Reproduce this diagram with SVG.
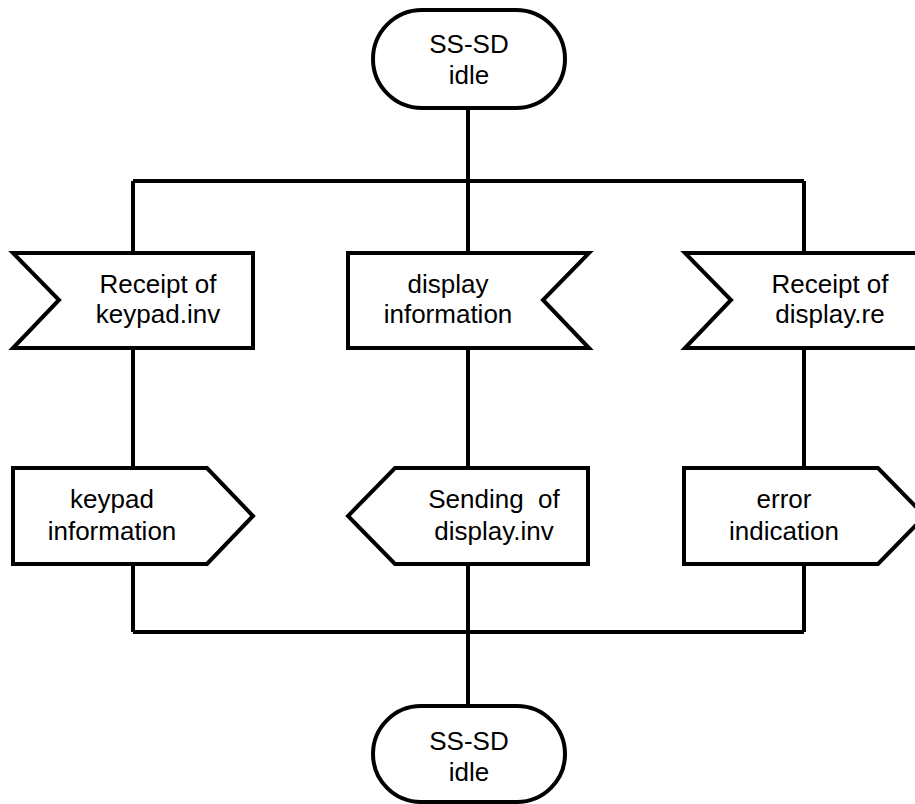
<svg xmlns="http://www.w3.org/2000/svg" width="915" height="804" viewBox="0 0 915 804">
<style>
.s{fill:#fff;stroke:#000;stroke-width:4;stroke-linejoin:miter}
.c{fill:none;stroke:#000;stroke-width:4}
text{font-family:"Liberation Sans",Arial,sans-serif;font-size:26px;fill:#000;text-anchor:middle;white-space:pre}
</style>
<rect width="915" height="804" fill="#fff"/>
<g id="connectors">
<path class="c" d="M468,108V181M133,181H804M133,181V253M468,181V253M804,181V253"/>
<path class="c" d="M133,348V468M468,348V468M804,348V468"/>
<path class="c" d="M133,564V632M468,564V632M804,564V632M133,632H804M468,632V706"/>
</g>
<g id="start">
<rect class="s" x="373" y="10" width="192" height="98" rx="49" ry="49"/>
<text x="469" y="53">SS-SD</text>
<text x="469" y="84">idle</text>
</g>
<g id="recv_keypad">
<path class="s" d="M13,253H253V348H13L59,300Z"/>
<text x="158" y="293">Receipt of</text>
<text x="158" y="323">keypad.inv</text>
</g>
<g id="display_info">
<path class="s" d="M348,253H589L543,300L589,348H348Z"/>
<text x="448" y="293">display</text>
<text x="448" y="323">information</text>
</g>
<g id="recv_display">
<path class="s" d="M685,253H925V348H685L731,300Z"/>
<text x="830" y="293">Receipt of</text>
<text x="830" y="323">display.re</text>
</g>
<g id="keypad_info">
<path class="s" d="M13,468H207L253,516L207,564H13Z"/>
<text x="112" y="508">keypad</text>
<text x="112" y="540">information</text>
</g>
<g id="send_display">
<path class="s" d="M395,468H588V564H395L348,516Z"/>
<text x="494" y="508">Sending  of</text>
<text x="494" y="540">display.inv</text>
</g>
<g id="error_ind">
<path class="s" d="M684,468H878L925,516L878,564H684Z"/>
<text x="784" y="508">error</text>
<text x="784" y="540">indication</text>
</g>
<g id="end">
<rect class="s" x="373" y="706" width="192" height="96" rx="48" ry="48"/>
<text x="469" y="750">SS-SD</text>
<text x="469" y="781">idle</text>
</g>
</svg>
